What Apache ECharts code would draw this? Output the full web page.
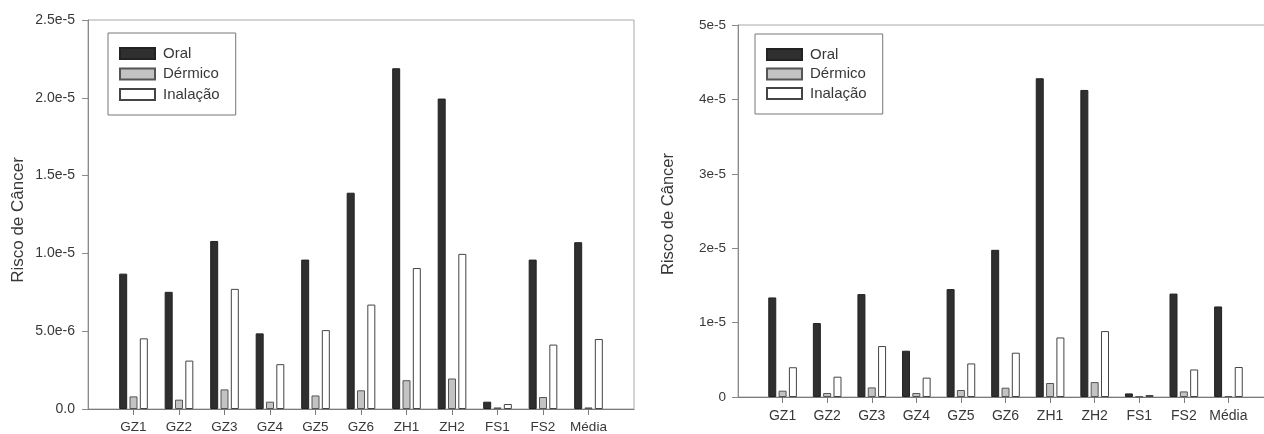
<!DOCTYPE html>
<html>
<head>
<meta charset="utf-8">
<script src="https://cdn.jsdelivr.net/npm/echarts@6/dist/echarts.min.js"></script>
<style>
  html, body { margin: 0; padding: 0; background: #ffffff; overflow: hidden; }
  #chart { width: 1290px; height: 434px; }
</style>
</head>
<body>
<div id="chart"></div>
<script>
// Sampling sites
const categories = ['GZ1', 'GZ2', 'GZ3', 'GZ4', 'GZ5', 'GZ6', 'ZH1', 'ZH2', 'FS1', 'FS2', 'Média'];
const seriesNames = ['Oral', 'Dérmico', 'Inalação'];

// Left panel: cancer risk by exposure route
const oralA     = [8.7e-6, 7.53e-6, 10.8e-6, 4.86e-6, 9.6e-6, 13.9e-6, 21.9e-6, 19.95e-6, 0.47e-6, 9.6e-6, 10.72e-6];
const dermicoA  = [0.81e-6, 0.6e-6, 1.26e-6, 0.47e-6, 0.87e-6, 1.2e-6, 1.85e-6, 1.96e-6, 0.1e-6, 0.77e-6, 0.1e-6];
const inalacaoA = [4.54e-6, 3.11e-6, 7.72e-6, 2.88e-6, 5.07e-6, 6.71e-6, 9.06e-6, 9.97e-6, 0.32e-6, 4.14e-6, 4.5e-6];

// Right panel: cancer risk by exposure route
const oralB     = [1.338e-5, 0.994e-5, 1.383e-5, 0.622e-5, 1.45e-5, 1.978e-5, 4.284e-5, 4.127e-5, 0.048e-5, 1.39e-5, 1.217e-5];
const dermicoB  = [0.085e-5, 0.054e-5, 0.129e-5, 0.054e-5, 0.094e-5, 0.125e-5, 0.188e-5, 0.2e-5, 0.005e-5, 0.075e-5, 0.013e-5];
const inalacaoB = [0.40e-5, 0.273e-5, 0.685e-5, 0.26e-5, 0.451e-5, 0.595e-5, 0.80e-5, 0.886e-5, 0.027e-5, 0.37e-5, 0.403e-5];

// Tick labels
const yTicksA = ['0.0', '5.0e-6', '1.0e-5', '1.5e-5', '2.0e-5', '2.5e-5'];
const yTicksB = ['0', '1e-5', '2e-5', '3e-5', '4e-5', '5e-5'];
const yTitle = 'Risco de Câncer';

const FONT = '"Liberation Sans", Arial, Helvetica, sans-serif';
const TEXT = '#383838';

// One empty slot on each side of the sites
const padCats = ['', ...categories, ''];
const pad = arr => ['-', ...arr, '-'];

const barStyles = [
  { color: '#2f2f2f', borderColor: '#222222', borderWidth: 1 },
  { color: '#c3c3c3', borderColor: '#555555', borderWidth: 1 },
  { color: '#ffffff', borderColor: '#444444', borderWidth: 1 }
];

function xAxisFor(gridIndex, fontSize, margin) {
  return {
    type: 'category',
    gridIndex: gridIndex,
    data: padCats,
    boundaryGap: false,
    axisLine: { lineStyle: { color: '#7a7a7a', width: 1 } },
    axisTick: { length: 6, lineStyle: { color: '#7a7a7a' }, interval: (i, v) => v !== '' },
    axisLabel: { interval: 0, color: TEXT, fontSize: fontSize, fontFamily: FONT, margin: margin },
    splitLine: { show: false }
  };
}

function yAxisFor(gridIndex, max, interval, ticks, fontSize, margin, nameSize, nameGap, nameShift) {
  return {
    type: 'value',
    gridIndex: gridIndex,
    min: 0,
    max: max,
    interval: interval,
    name: yTitle,
    nameLocation: 'middle',
    nameGap: nameGap,
    nameTextStyle: { color: TEXT, fontSize: nameSize, fontFamily: FONT, padding: [0, nameShift, 0, 0] },
    axisLine: { show: true, lineStyle: { color: '#8a8a8a', width: 1 } },
    axisTick: { show: true, length: 6, lineStyle: { color: '#8a8a8a' } },
    axisLabel: {
      color: TEXT, fontSize: fontSize, fontFamily: FONT, margin: margin,
      formatter: (v, i) => ticks[i]
    },
    splitLine: { show: false }
  };
}

function barSeries(name, data, axisIndex) {
  const k = seriesNames.indexOf(name);
  return {
    type: 'bar',
    name: name,
    xAxisIndex: axisIndex,
    yAxisIndex: axisIndex,
    data: pad(data),
    barWidth: 8,
    barGap: '29%',
    itemStyle: barStyles[k],
    emphasis: { disabled: true },
    animation: false
  };
}

function legendAt(left, top, itemGap) {
  return {
    data: seriesNames,
    orient: 'vertical',
    left: left,
    top: top,
    icon: 'rect',
    itemWidth: 35,
    itemHeight: 11,
    itemGap: itemGap,
    padding: [13, 16, 13, 11],
    borderColor: '#777777',
    borderWidth: 1,
    backgroundColor: '#ffffff',
    selectedMode: false,
    textStyle: { color: TEXT, fontSize: 15, fontFamily: FONT, lineHeight: 15, padding: [0, 0, 0, 3] }
  };
}

const chart = echarts.init(document.getElementById('chart'), null, { renderer: 'canvas' });
chart.setOption({
  backgroundColor: '#ffffff',
  animation: false,
  grid: [
    { left: 88, top: 20, width: 546, height: 391, show: true, borderColor: '#a8a8a8', borderWidth: 1, containLabel: false },
    { left: 738, top: 25, width: 535, height: 372, show: true, borderColor: '#a8a8a8', borderWidth: 1, containLabel: false }
  ],
  legend: [legendAt(108, 33, 5.5), legendAt(755, 34, 4.5)],
  xAxis: [xAxisFor(0, 13.5, 11), xAxisFor(1, 14, 12)],
  yAxis: [
    yAxisFor(0, 2.5e-5, 5e-6, yTicksA, 14, 13, 17, 61, 11),
    yAxisFor(1, 5e-5, 1e-5, yTicksB, 13.5, 12, 16.5, 61, 6)
  ],
  series: [
    barSeries('Oral', oralA, 0),
    barSeries('Dérmico', dermicoA, 0),
    barSeries('Inalação', inalacaoA, 0),
    barSeries('Oral', oralB, 1),
    barSeries('Dérmico', dermicoB, 1),
    barSeries('Inalação', inalacaoB, 1)
  ]
});
</script>
</body>
</html>
